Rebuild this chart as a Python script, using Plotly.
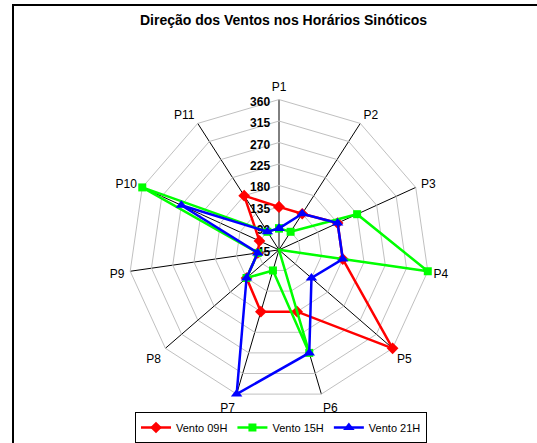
import plotly.graph_objects as go

categories = ["P1", "P2", "P3", "P4", "P5", "P6", "P7", "P8", "P9", "P10", "P11"]
vento_09h = [135, 135, 180, 180, 360, 180, 180, 135, 90, 90, 180]
vento_15h = [90, 90, 225, 360, 45, 270, 90, 135, 90, 360, 90]
vento_21h = [90, 135, 180, 180, 135, 270, 360, 135, 90, 270, 90]
radial_ticks = [45, 90, 135, 180, 225, 270, 315, 360]

W, H = 537, 443
cx, cy, R = 279, 251, 151

def closed(v):
    return v + v[:1]

cats_c = closed(categories)

fig = go.Figure()
series = [
    ("Vento 09H", vento_09h, "#ff0000", "diamond", 9),
    ("Vento 15H", vento_15h, "#00ff00", "square", 8),
    ("Vento 21H", vento_21h, "#0000ff", "triangle-up", 10),
]
for name, vals, col, sym, ms in series:
    fig.add_trace(go.Scatterpolar(
        r=closed(vals), theta=cats_c, mode="lines+markers", name=name,
        line=dict(color=col, width=2.5),
        marker=dict(symbol=sym, size=ms, color=col),
    ))

fig.update_layout(
    width=W, height=H,
    margin=dict(l=0, r=0, t=0, b=0),
    paper_bgcolor="white",
    plot_bgcolor="white",
    font=dict(family="Liberation Sans, Arial, sans-serif", size=12, color="black"),
    title=dict(text="<b>Direção dos Ventos nos Horários Sinóticos</b>",
               x=283.5 / W, xanchor="center", y=1 - 20 / H, yanchor="middle",
               font=dict(size=14, color="black")),
    polar=dict(
        domain=dict(x=[(cx - R) / W, (cx + R) / W], y=[(H - cy - R) / H, (H - cy + R) / H]),
        gridshape="linear",
        bgcolor="white",
        radialaxis=dict(
            range=[45, 360], tickvals=radial_ticks, angle=90,
            side="counterclockwise", showline=False,
            gridcolor="#c0c0c0", gridwidth=1,
            tickfont=dict(size=12, weight="bold", color="black"),
            ticks="", layer="below traces",
        ),
        angularaxis=dict(
            rotation=90, direction="clockwise",
            gridcolor="black", gridwidth=1,
            linecolor="#c0c0c0", linewidth=1,
            ticks="outside", ticklen=3, tickcolor="rgba(0,0,0,0)",
            tickfont=dict(size=12, color="black"),
            layer="below traces",
        ),
    ),
    legend=dict(
        orientation="h", x=281 / W, xanchor="center", y=1 - 414 / H, yanchor="top",
        bordercolor="black", borderwidth=1, bgcolor="white",
        font=dict(size=11), tracegroupgap=0,
    ),
)

frame_js = (
    "document.body.style.margin='0';document.body.style.overflow='hidden';"
    "var f=document.createElement('div');"
    "f.style.cssText='position:absolute;left:12px;top:4px;width:600px;height:500px;"
    "border-left:2px solid black;border-top:2px solid black;pointer-events:none;z-index:10;';"
    "document.body.appendChild(f);"
)
fig.write_html("out.html", config={"displayModeBar": False}, post_script=frame_js)
